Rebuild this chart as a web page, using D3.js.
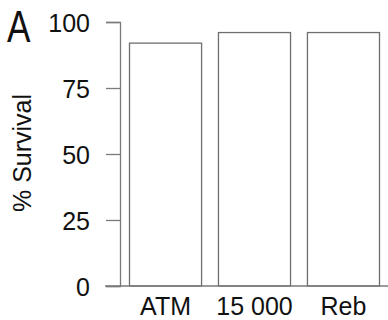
<!DOCTYPE html>
<html>
<head>
<meta charset="utf-8">
<script src="https://cdn.jsdelivr.net/npm/d3@7"></script>
<style>
  html, body { margin: 0; padding: 0; background: #fff; }
  svg { display: block; }
  text { font-family: "Liberation Sans", Arial, sans-serif; fill: #111; }
</style>
</head>
<body>
<svg id="chart" width="388" height="320"></svg>
<script>
// Survival percentage per group
const categories = ["ATM", "15 000", "Reb"];
const survival = [92, 96, 96];
const yTicks = [0, 25, 50, 75, 100];

const svg = d3.select("#chart");
const axisX = 120;

const x = d3.scaleBand()
  .domain(categories)
  .range([129.5, 379.5])
  .paddingInner(0.19)
  .paddingOuter(0);

const y = d3.scaleLinear()
  .domain([0, 100])
  .range([286, 22]);

const axisColor = "#7a7a7a";

// Bars
svg.append("g")
  .selectAll("rect")
  .data(categories)
  .join("rect")
  .attr("x", d => x(d))
  .attr("y", (d, i) => y(survival[i]))
  .attr("width", x.bandwidth())
  .attr("height", (d, i) => y(0) - y(survival[i]))
  .attr("fill", "#fff")
  .attr("stroke", "#6e6e6e")
  .attr("stroke-width", 1.3);

// Y axis
const yAxis = svg.append("g")
  .attr("transform", `translate(${axisX},0)`)
  .call(d3.axisLeft(y).tickValues(yTicks).tickSize(14).tickPadding(16));
yAxis.select(".domain").attr("stroke", axisColor).attr("stroke-width", 1.3);
yAxis.selectAll(".tick line").attr("stroke", axisColor).attr("stroke-width", 1.3);
yAxis.selectAll(".tick text")
  .attr("font-size", 25)
  .attr("dy", "0.36em")
  .attr("font-family", "Liberation Sans, Arial, sans-serif")
  .attr("fill", "#111");

// Baseline running across the plot
svg.append("line")
  .attr("x1", 105).attr("x2", 388)
  .attr("y1", y(0)).attr("y2", y(0))
  .attr("stroke", axisColor)
  .attr("stroke-width", 1.3);

// Category labels
svg.append("g")
  .selectAll("text")
  .data(categories)
  .join("text")
  .attr("x", d => x(d) + x.bandwidth() / 2)
  .attr("y", 315)
  .attr("text-anchor", "middle")
  .attr("font-size", 25)
  .text(d => d);

// Y axis title
svg.append("text")
  .attr("transform", `translate(31,${(y(0) + y(100)) / 2 - 1}) rotate(-90)`)
  .attr("text-anchor", "middle")
  .attr("font-size", 25)
  .text("% Survival");

// Panel letter
svg.append("text")
  .attr("transform", "translate(7,42) scale(0.8,1)")
  .attr("font-size", 44)
  .text("A");
</script>
</body>
</html>
